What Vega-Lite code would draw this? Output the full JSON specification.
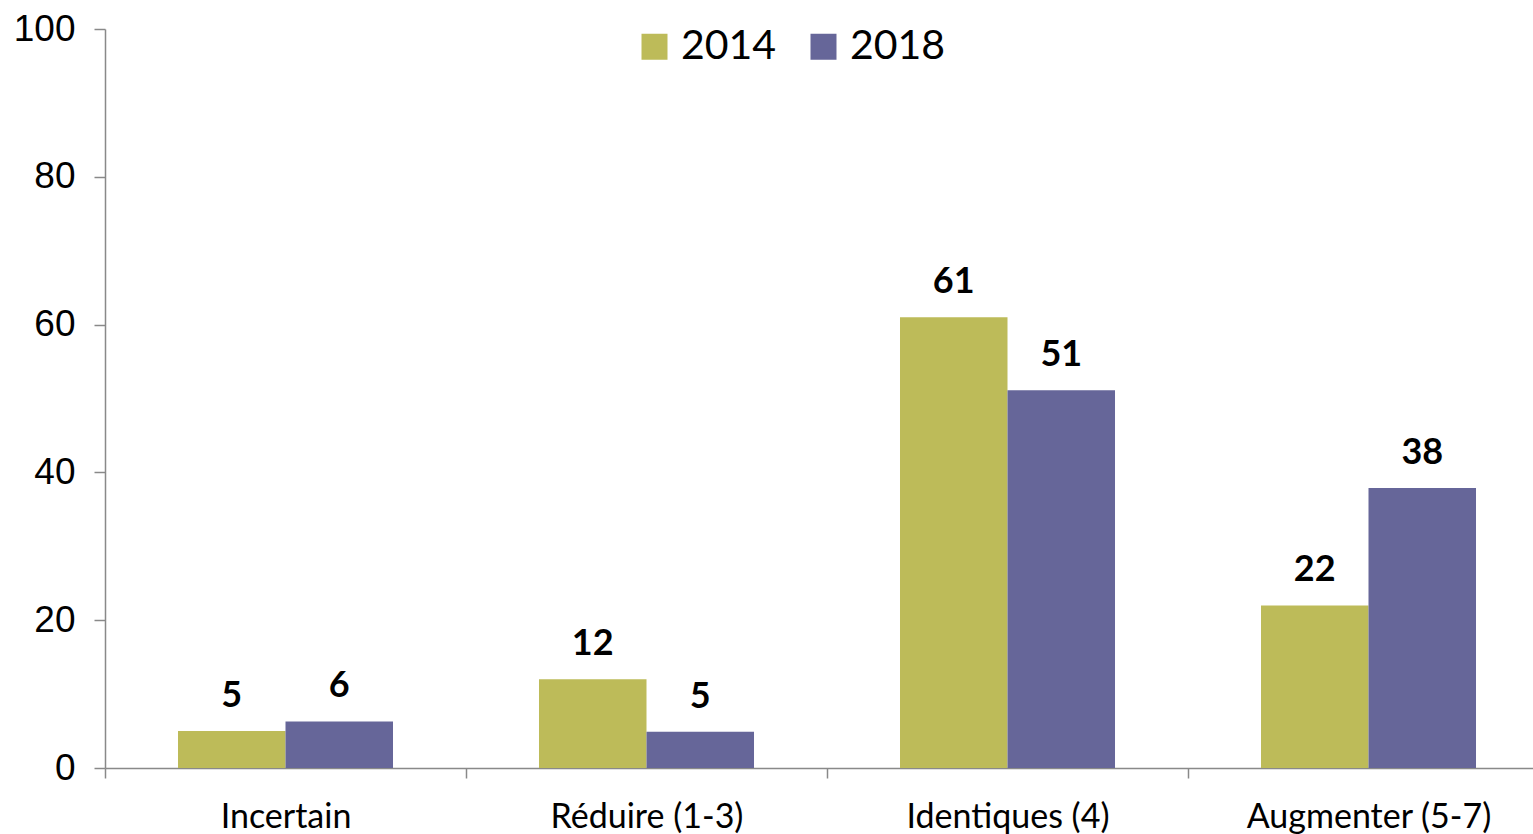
{
  "$schema": "https://vega.github.io/schema/vega-lite/v6.json",
  "width": 1428,
  "height": 739,
  "autosize": "none",
  "padding": {"left": 105, "top": 29, "right": 0, "bottom": 66},
  "background": "white",
  "data": {
    "values": [
      {"cat": "Incertain", "year": "2014", "value": 5.0},
      {"cat": "Incertain", "year": "2018", "value": 6.3},
      {"cat": "Réduire (1-3)", "year": "2014", "value": 12.0},
      {"cat": "Réduire (1-3)", "year": "2018", "value": 4.9},
      {"cat": "Identiques (4)", "year": "2014", "value": 61.0},
      {"cat": "Identiques (4)", "year": "2018", "value": 51.1},
      {"cat": "Augmenter (5-7)", "year": "2014", "value": 22.0},
      {"cat": "Augmenter (5-7)", "year": "2018", "value": 37.9}
    ]
  },
  "encoding": {
    "x": {
      "field": "cat",
      "type": "nominal",
      "sort": ["Incertain", "Réduire (1-3)", "Identiques (4)", "Augmenter (5-7)"],
      "scale": {"range": [0, 1444], "paddingInner": 0, "paddingOuter": 0},
      "axis": {
        "title": null,
        "labelAngle": 0,
        "labelLimit": 0,
        "tickBand": "extent",
        "tickSize": 10,
        "tickColor": "#898989",
        "domainColor": "#898989",
        "domainWidth": 1.5,
        "tickWidth": 1.5,
        "labelFont": "Lato",
        "labelFontSize": 34,
        "labelColor": "#000000",
        "labelPadding": 22
      }
    },
    "xOffset": {
      "field": "year",
      "type": "nominal",
      "scale": {"paddingInner": 0, "paddingOuter": 0.679}
    },
    "y": {
      "field": "value",
      "type": "quantitative",
      "scale": {"domain": [0, 100], "nice": false},
      "axis": {
        "title": null,
        "values": [0, 20, 40, 60, 80, 100],
        "grid": false,
        "tickSize": 11,
        "tickColor": "#898989",
        "domainColor": "#898989",
        "domainWidth": 1.5,
        "tickWidth": 1.5,
        "labelFont": "Liberation Sans",
        "labelFontSize": 37,
        "labelColor": "#000000",
        "labelPadding": 19
      }
    }
  },
  "layer": [
    {
      "mark": {"type": "bar"},
      "encoding": {
        "color": {
          "field": "year",
          "type": "nominal",
          "scale": {"domain": ["2014", "2018"], "range": ["#BDBB59", "#666699"]},
          "legend": {
            "title": null,
            "orient": "none",
            "direction": "horizontal",
            "legendX": 529,
            "legendY": -3,
            "symbolType": "square",
            "symbolSize": 676,
            "symbolStrokeWidth": 0,
            "labelFont": "Lato",
            "labelFontSize": 41,
            "labelColor": "#000000",
            "labelOffset": 6,
            "columnPadding": 26,
            "padding": 0
          }
        }
      }
    },
    {
      "mark": {"type": "text", "baseline": "alphabetic", "dy": -24, "font": "Lato", "fontWeight": "bold", "fontSize": 36, "color": "#000000"},
      "encoding": {
        "text": {"field": "value", "type": "quantitative", "format": ".0f"}
      }
    }
  ],
  "config": {"view": {"stroke": null}}
}
